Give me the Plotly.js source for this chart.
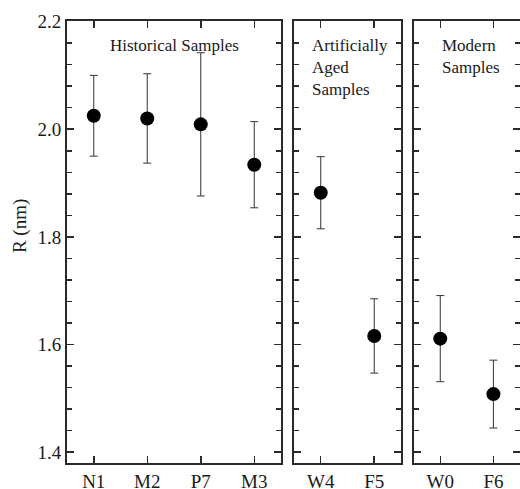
<!DOCTYPE html>
<html>
<head>
<meta charset="utf-8">
<script src="https://cdn.plot.ly/plotly-3.0.1.min.js"></script>
<style>html,body{margin:0;padding:0;background:#fff;}#chart{width:520px;height:489px;}</style>
</head>
<body>
<div id="chart"></div>
<script>
// Panel 1: Historical samples
var histLabels = ["N1", "M2", "P7", "M3"];
var histR = [2.025, 2.020, 2.009, 1.934];
var histErr = [0.075, 0.083, 0.133, 0.080];
// Panel 2: Artificially aged samples
var agedLabels = ["W4", "F5"];
var agedR = [1.882, 1.616];
var agedErr = [0.067, 0.069];
// Panel 3: Modern samples
var modLabels = ["W0", "F6"];
var modR = [1.611, 1.508];
var modErr = [0.080, 0.063];

var yTickVals = [1.4, 1.6, 1.8, 2.0, 2.2];

var FONT = "Liberation Serif";
var INK = '#1a1a1a';
var AX = '#2a2a2a';

function trace(x, y, e, xa, ya) {
  return {
    type: 'scatter', mode: 'markers', x: x, y: y,
    xaxis: xa, yaxis: ya,
    marker: {symbol: 'circle', size: 14, color: '#000'},
    error_y: {type: 'data', array: e, visible: true, color: '#333', thickness: 1, width: 4},
    showlegend: false, hoverinfo: 'skip'
  };
}

function xax(domain, n, anchor) {
  return {
    domain: domain, anchor: anchor, type: 'category',
    range: [-0.5, n - 0.5], showgrid: false, zeroline: false,
    showline: true, linecolor: AX, linewidth: 2, mirror: 'ticks',
    ticks: 'inside', ticklen: 7, tickwidth: 1.5, tickcolor: AX,
    tickfont: {family: FONT, size: 19, color: INK}, fixedrange: true
  };
}
function yax(anchor, labels) {
  return {
    anchor: anchor, range: [1.38, 2.201],
    tickvals: yTickVals, tickformat: '.1f',
    showticklabels: labels, showgrid: false, zeroline: false,
    showline: true, linecolor: AX, linewidth: 2, mirror: 'ticks',
    ticks: 'inside', ticklen: 7, tickwidth: 1.5, tickcolor: AX,
    minor: {dtick: 0.04, tick0: 1.4, ticks: 'inside', ticklen: 5, tickwidth: 1.5, tickcolor: AX, showgrid: false},
    tickfont: {family: FONT, size: 19, color: INK}, fixedrange: true
  };
}

var data = [
  trace(histLabels, histR, histErr, 'x', 'y'),
  trace(agedLabels, agedR, agedErr, 'x2', 'y2'),
  trace(modLabels, modR, modErr, 'x3', 'y3')
];

var annFont = {family: FONT, size: 17, color: INK};
var layout = {
  width: 520, height: 489,
  font: {family: FONT, color: INK},
  margin: {l: 67, r: 0, t: 21, b: 26, pad: 0},
  paper_bgcolor: '#fff', plot_bgcolor: '#fff',
  xaxis: xax([0, 0.4724], histLabels.length, 'y'),
  xaxis2: xax([0.5011, 0.7373], agedLabels.length, 'y2'),
  xaxis3: xax([0.7653, 1.0], modLabels.length, 'y3'),
  yaxis: yax('x', true),
  yaxis2: yax('x2', false),
  yaxis3: yax('x3', false),
  annotations: [
    {xref: 'x', yref: 'y', x: 1.5, y: 2.177, yanchor: 'top', xanchor: 'center',
     text: 'Historical Samples', showarrow: false, font: annFont},
    {xref: 'x2', yref: 'y2', x: -0.2, y: 2.177, yanchor: 'top', xanchor: 'left', align: 'left',
     text: 'Artificially<br>Aged<br>Samples', showarrow: false, font: annFont},
    {xref: 'x3', yref: 'y3', x: -0.01, y: 2.177, yanchor: 'top', xanchor: 'left', align: 'left',
     text: 'Modern<br>Samples', showarrow: false, font: annFont},
    {xref: 'paper', yref: 'paper', x: -0.1038, y: 0.536, xanchor: 'center', yanchor: 'middle',
     textangle: -90, text: 'R (nm)', showarrow: false, font: {family: FONT, size: 19, color: INK}}
  ]
};

Plotly.newPlot('chart', data, layout, {displayModeBar: false, staticPlot: true});
</script>
</body>
</html>
